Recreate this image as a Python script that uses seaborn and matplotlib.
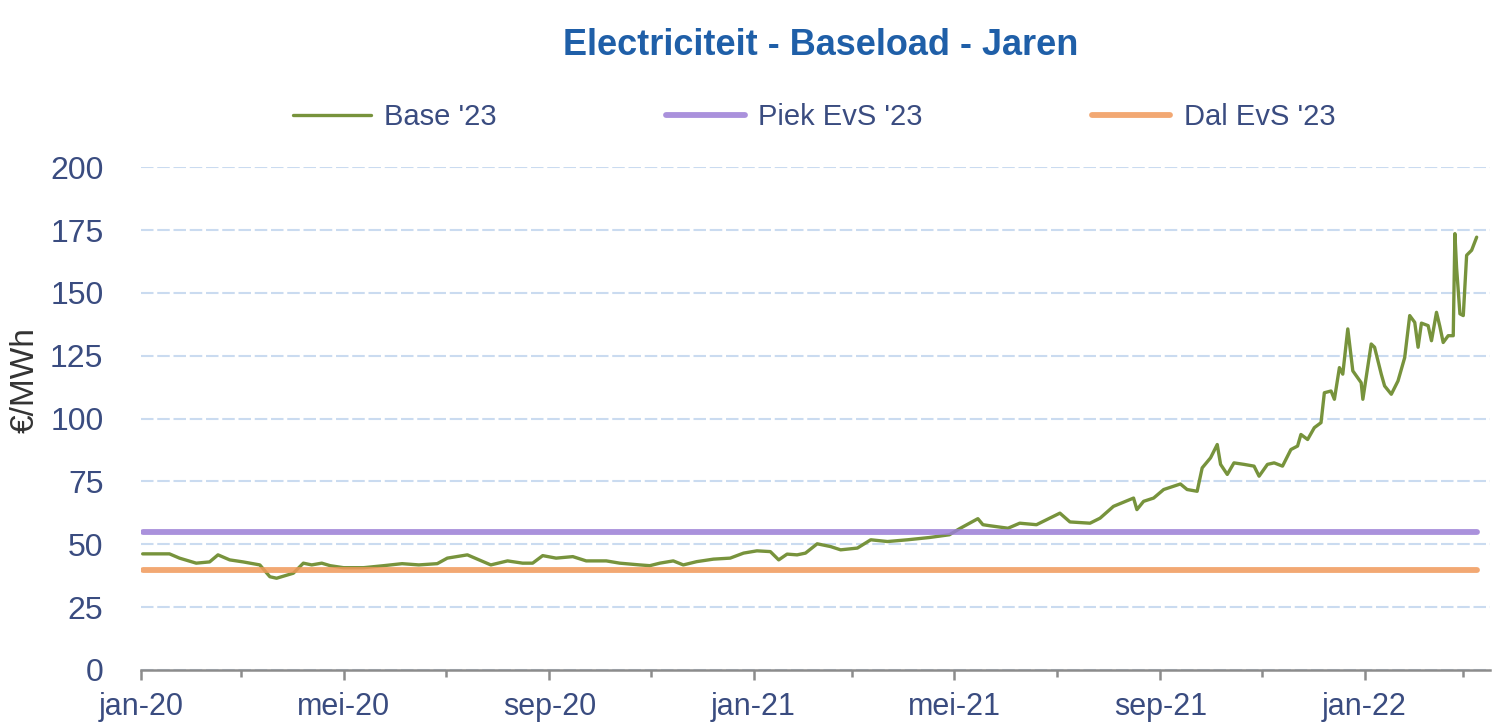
import matplotlib
matplotlib.use("Agg")
import matplotlib.pyplot as plt
import seaborn as sns
import pandas as pd

# ---------------- data ----------------
base_dates = [
    "2020-01-02", "2020-01-18", "2020-01-24", "2020-02-03", "2020-02-11", "2020-02-16", "2020-02-23",
    "2020-03-02", "2020-03-12", "2020-03-18", "2020-03-22", "2020-04-01", "2020-04-07", "2020-04-12",
    "2020-04-18", "2020-04-23", "2020-05-01", "2020-05-13", "2020-05-25", "2020-06-05", "2020-06-15",
    "2020-06-26", "2020-07-02", "2020-07-14", "2020-07-22", "2020-07-28", "2020-08-07", "2020-08-16",
    "2020-08-22", "2020-08-28", "2020-09-05", "2020-09-15", "2020-09-23", "2020-10-05", "2020-10-13",
    "2020-10-25", "2020-10-31", "2020-11-06", "2020-11-14", "2020-11-20", "2020-11-28", "2020-12-08",
    "2020-12-18", "2020-12-26", "2021-01-03", "2021-01-11", "2021-01-16", "2021-01-21", "2021-01-27",
    "2021-02-01", "2021-02-08", "2021-02-16", "2021-02-22", "2021-03-04", "2021-03-12", "2021-03-22",
    "2021-04-03", "2021-04-16", "2021-04-28", "2021-05-04", "2021-05-15", "2021-05-18", "2021-05-22",
    "2021-06-02", "2021-06-09", "2021-06-19", "2021-07-03", "2021-07-09", "2021-07-21", "2021-07-27",
    "2021-08-04", "2021-08-16", "2021-08-18", "2021-08-22", "2021-08-28", "2021-09-03", "2021-09-13",
    "2021-09-17", "2021-09-23", "2021-09-26", "2021-10-01", "2021-10-05", "2021-10-07", "2021-10-11",
    "2021-10-15", "2021-10-21", "2021-10-27", "2021-10-30", "2021-11-04", "2021-11-08", "2021-11-13",
    "2021-11-18", "2021-11-22", "2021-11-24", "2021-11-28", "2021-12-02", "2021-12-06", "2021-12-08",
    "2021-12-12", "2021-12-14", "2021-12-17", "2021-12-19", "2021-12-22", "2021-12-25", "2021-12-30",
    "2021-12-31", "2022-01-05", "2022-01-07", "2022-01-11", "2022-01-13", "2022-01-17", "2022-01-21",
    "2022-01-25", "2022-01-28", "2022-01-31", "2022-02-02", "2022-02-04", "2022-02-08", "2022-02-10",
    "2022-02-13", "2022-02-15", "2022-02-17", "2022-02-20", "2022-02-23", "2022-02-24", "2022-02-25",
    "2022-02-27", "2022-03-01", "2022-03-03", "2022-03-06", "2022-03-09",
]
base_values = [
    46.2, 46.2, 44.5, 42.5, 43.0, 45.8, 43.8,
    43.0, 41.8, 37.1, 36.5, 38.5, 42.5, 41.8,
    42.5, 41.5, 40.7, 40.7, 41.5, 42.3, 41.8,
    42.3, 44.5, 45.8, 43.5, 41.8, 43.4, 42.5,
    42.5, 45.5, 44.5, 45.1, 43.4, 43.4, 42.5,
    41.8, 41.5, 42.5, 43.4, 41.8, 43.1, 44.1,
    44.5, 46.5, 47.4, 47.1, 43.8, 46.1, 45.8,
    46.5, 50.2, 49.1, 47.8, 48.5, 51.8, 51.1,
    51.8, 52.7, 53.8, 56.2, 60.2, 57.8, 57.4,
    56.4, 58.4, 57.8, 62.4, 58.9, 58.4, 60.4,
    65.1, 68.4, 63.8, 67.1, 68.4, 71.8, 74.0,
    71.8, 71.1, 80.4, 84.4, 89.7, 81.8, 77.8,
    82.4, 81.8, 81.1, 77.1, 81.8, 82.4, 81.1,
    87.7, 89.1, 93.7, 91.7, 96.4, 98.4, 110.3,
    111.0, 107.7, 120.3, 117.7, 135.7, 119.0, 114.3,
    107.7, 129.7, 128.4, 117.7, 113.0, 109.7, 115.0,
    124.3, 141.0, 138.3, 128.4, 138.0, 137.0, 131.0,
    142.3, 136.7, 130.3, 133.0, 133.0, 173.6, 160.0,
    141.7, 141.0, 165.0, 167.0, 172.2,
]
piek_dates = ["2020-01-02", "2022-03-09"]
piek_values = [54.8, 54.8]
dal_dates = ["2020-01-02", "2022-03-09"]
dal_values = [39.8, 39.8]

series_names = ["Base '23", "Piek EvS '23", "Dal EvS '23"]
series_colors = ["#77933C", "#9B7ED6", "#F0995A"]

major_tick_dates = ["2020-01-01", "2020-05-01", "2020-09-01", "2021-01-01",
                    "2021-05-01", "2021-09-01", "2022-01-01"]
major_tick_labels = ["jan-20", "mei-20", "sep-20", "jan-21", "mei-21", "sep-21", "jan-22"]
minor_tick_dates = ["2020-03-01", "2020-07-01", "2020-11-01", "2021-03-01",
                    "2021-07-01", "2021-11-01", "2022-03-01"]
y_ticks = [0, 25, 50, 75, 100, 125, 150, 175, 200]

title = "Electriciteit - Baseload - Jaren"
y_label = "€/MWh"

# ---------------- style ----------------
sns.set_theme(style="white")
FONT = ["Liberation Sans", "DejaVu Sans"]
plt.rcParams["font.family"] = FONT
TXT = "#3A4C80"

fig = plt.figure(figsize=(14.92, 7.28), dpi=100)
ax = fig.add_axes([0.0945, 0.0797, 0.9042, 0.6905])

df_base = pd.DataFrame({"date": pd.to_datetime(base_dates), "value": base_values})
df_piek = pd.DataFrame({"date": pd.to_datetime(piek_dates), "value": piek_values})
df_dal = pd.DataFrame({"date": pd.to_datetime(dal_dates), "value": dal_values})

sns.lineplot(data=df_base, x="date", y="value", ax=ax, color=series_colors[0],
             linewidth=2.4, label=series_names[0], zorder=3)
sns.lineplot(data=df_piek, x="date", y="value", ax=ax, color=series_colors[1],
             linewidth=4.2, alpha=0.85, label=series_names[1], zorder=4)
sns.lineplot(data=df_dal, x="date", y="value", ax=ax, color=series_colors[2],
             linewidth=4.2, alpha=0.85, label=series_names[2], zorder=4)

ax.set_xlim(pd.Timestamp("2020-01-01"), pd.Timestamp("2022-03-17"))
ax.set_ylim(0, 200)
ax.set_yticks(y_ticks)
ax.set_xticks(pd.to_datetime(major_tick_dates))
ax.set_xticklabels(major_tick_labels)
ax.set_xticks(pd.to_datetime(minor_tick_dates), minor=True)

ax.yaxis.grid(True, linestyle=(0, (6, 1.8)), color="#CADBF0", linewidth=1.5)
ax.xaxis.grid(False)
ax.set_axisbelow(True)

for s in ["left", "top", "right"]:
    ax.spines[s].set_visible(False)
ax.spines["bottom"].set_color("#8C8C8C")
ax.spines["bottom"].set_linewidth(1.8)
ax.spines["bottom"].set_zorder(5)

ax.tick_params(axis="x", which="major", bottom=True, length=7, width=1.8, color="#8C8C8C",
               labelsize=22, labelcolor=TXT, pad=9)
ax.tick_params(axis="x", which="minor", bottom=True, length=5, width=1.8, color="#8C8C8C")
ax.tick_params(axis="y", which="both", left=False, labelsize=23, labelcolor=TXT, pad=21)

ax.set_xlabel("")
ax.set_ylabel(y_label, fontsize=24, color="#333333")
ax.yaxis.set_label_coords(-0.074, 0.576)

fig.text(0.55, 0.938, title, ha="center", va="center", fontsize=26,
         fontweight="bold", color="#1F5FA8")

ax.legend_.remove()
handles, labels = ax.get_legend_handles_labels()
fig.legend(handles, labels, loc="center", bbox_to_anchor=(0.5455, 0.839), ncol=3,
           frameon=False, fontsize=21, labelcolor=TXT, handlelength=2.7,
           handletextpad=0.45, columnspacing=5.8)

fig.savefig("out.png", dpi=100)
